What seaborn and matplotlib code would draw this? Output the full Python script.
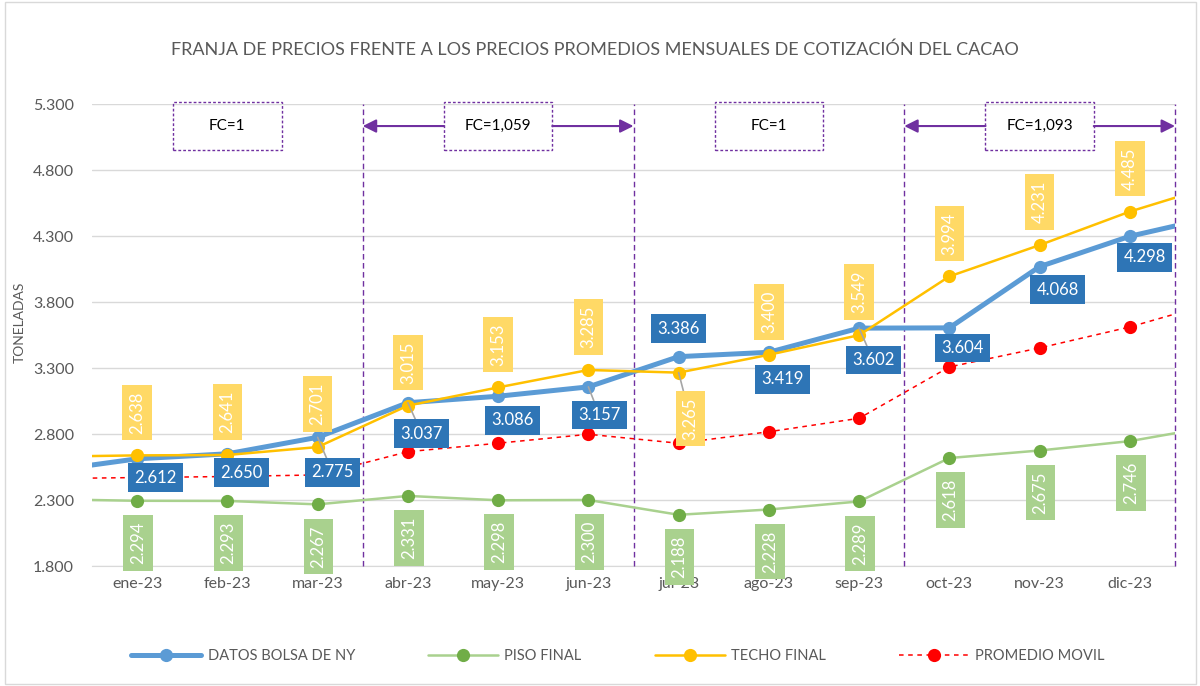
import numpy as np
import pandas as pd
import matplotlib
matplotlib.use('Agg')
import matplotlib.pyplot as plt
import seaborn as sns
from matplotlib.patches import Rectangle

meses = ['ene-23', 'feb-23', 'mar-23', 'abr-23', 'may-23', 'jun-23',
         'jul-23', 'ago-23', 'sep-23', 'oct-23', 'nov-23', 'dic-23']
bolsa_ny = [2612, 2650, 2775, 3037, 3086, 3157, 3386, 3419, 3602, 3604, 4068, 4298]
piso_final = [2294, 2293, 2267, 2331, 2298, 2300, 2188, 2228, 2289, 2618, 2675, 2746]
techo_final = [2638, 2641, 2701, 3015, 3153, 3285, 3265, 3400, 3549, 3994, 4231, 4485]
promedio_movil = [2470, 2478, 2490, 2666, 2730, 2798, 2730, 2817, 2919, 3308, 3452, 3611]

# dic-22 y ene-24 (fuera del eje), solo para que las lineas lleguen a los bordes
bolsa_bordes = [2518, 4454]
piso_bordes = [2306, 2866]
techo_bordes = [2628, 4695]
promedio_bordes = [2462, 3807]

fc_textos = ['FC=1', 'FC=1,059', 'FC=1', 'FC=1,093']
y_ticks = [1800, 2300, 2800, 3300, 3800, 4300, 4800, 5300]
y_labels = ['1.800', '2.300', '2.800', '3.300', '3.800', '4.300', '4.800', '5.300']

sns.set_style('white')
plt.rcParams['font.family'] = ['Lato', 'DejaVu Sans']
gris = '#595959'
morado = '#7030A0'


def serie(vals, bordes):
    return pd.DataFrame({'pos': np.arange(-1, len(vals) + 1),
                         'valor': [bordes[0]] + list(vals) + [bordes[1]]})


def fmt(v):
    return f'{v:,}'.replace(',', '.')


fig = plt.figure(figsize=(12, 6.86), dpi=100)
ax = fig.add_axes([92 / 1200, 120 / 686, 1083 / 1200, 462 / 686])

# lineas
sns.lineplot(data=serie(bolsa_ny, bolsa_bordes), x='pos', y='valor', ax=ax,
             color='#5B9BD5', lw=3.6, marker='o', markersize=9.5, markeredgewidth=0,
             label='DATOS BOLSA DE NY', zorder=4)
sns.lineplot(data=serie(piso_final, piso_bordes), x='pos', y='valor', ax=ax,
             color='#A9D18E', lw=1.8, marker='o', markersize=9.5, markeredgewidth=0,
             markerfacecolor='#70AD47', label='PISO FINAL', zorder=5)
sns.lineplot(data=serie(techo_final, techo_bordes), x='pos', y='valor', ax=ax,
             color='#FFC000', lw=1.8, marker='o', markersize=9.5, markeredgewidth=0,
             label='TECHO FINAL', zorder=6)
sns.lineplot(data=serie(promedio_movil, promedio_bordes), x='pos', y='valor', ax=ax,
             color='#FF0000', lw=1.1, linestyle=(0, (3, 3)), marker='o', markersize=9.5,
             markeredgewidth=0, label='PROMEDIO MOVIL', zorder=7)

handles, labels = ax.get_legend_handles_labels()
ax.get_legend().remove()

ax.set_xlim(-0.5, 11.5)
ax.set_ylim(1800, 5300)
ax.set_xticks(range(len(meses)))
ax.set_xticklabels(meses)
ax.set_xticks(np.arange(-0.5, 12, 1), minor=True)
ax.set_yticks(y_ticks)
ax.set_yticklabels(y_labels)
ax.set_xlabel('')
ax.set_ylabel('')
ax.tick_params(axis='x', which='major', length=0, pad=8, labelsize=11.5, labelcolor=gris)
ax.tick_params(axis='x', which='minor', length=4, width=1, color='#D9D9D9', direction='out')
ax.tick_params(axis='y', length=0, pad=13, labelsize=11.5, labelcolor=gris)
ax.yaxis.grid(True, color='#D9D9D9', lw=1)
ax.set_axisbelow(True)
for s in ['left', 'right', 'top']:
    ax.spines[s].set_visible(False)
ax.spines['bottom'].set_color('#D9D9D9')

# separadores de periodos
for xv in [2.5, 5.5, 8.5, 11.5]:
    ax.axvline(xv, color=morado, lw=1.0, ls=(0, (4, 2.5)), zorder=3, clip_on=False)

# cajas FC
for k, txt in enumerate(fc_textos):
    c = 1 + 3 * k
    ax.add_patch(Rectangle((c - 0.6, 4950), 1.2, 365, fill=False, ec=morado, lw=1.0,
                           ls=(0, (2, 1.5)), clip_on=False, zorder=8))
    ax.text(c, 5133, txt, ha='center', va='center', fontsize=11, color='black', zorder=9)
    if txt != 'FC=1':
        for a, b in [(c - 0.6, c - 1.5), (c + 0.6, c + 1.5)]:
            ax.annotate('', xy=(b, 5133), xytext=(a, 5133),
                        arrowprops=dict(arrowstyle='-|>', color=morado, lw=1.5,
                                        mutation_scale=20, shrinkA=0, shrinkB=0),
                        zorder=9)

# etiquetas de datos
off_bolsa = [(18, -19), (14, -19), (15, -35), (14, -31), (14, -24), (11, -28),
             (0, 28), (14, -27), (14, -32), (13, -20), (18, -23), (15, -21)]
guia_bolsa = [2, 3, 5, 8]
guia = dict(arrowstyle='-', color='#A6A6A6', lw=1.2, shrinkA=0, shrinkB=0)

for i, v in enumerate(bolsa_ny):
    ax.annotate(fmt(v), xy=(i, v), xytext=off_bolsa[i], textcoords='offset pixels',
                ha='center', va='center', fontsize=12, color='white', zorder=12,
                bbox=dict(boxstyle='square,pad=0.38', fc='#2E75B6', ec='none'),
                arrowprops=guia if i in guia_bolsa else None)

for i, v in enumerate(techo_final):
    off = (12, -46) if i == 6 else (0, 43)
    ax.annotate(fmt(v), xy=(i, v), xytext=off, textcoords='offset pixels',
                ha='center', va='center', fontsize=12, color='white', rotation=90,
                zorder=11, bbox=dict(boxstyle='square,pad=0.4', fc='#FFD966', ec='none'),
                arrowprops=guia if i == 6 else None)

for i, v in enumerate(piso_final):
    ax.annotate(fmt(v), xy=(i, v), xytext=(1, -42), textcoords='offset pixels',
                ha='center', va='center', fontsize=12, color='white', rotation=90,
                zorder=11, bbox=dict(boxstyle='square,pad=0.4', fc='#A9D18E', ec='none'))

fig.text(595 / 1200, 1 - 50 / 686,
         'FRANJA DE PRECIOS FRENTE A LOS PRECIOS PROMEDIOS MENSUALES DE COTIZACIÓN DEL CACAO',
         ha='center', va='center', fontsize=13, color=gris)
fig.text(20 / 1200, 1 - 322 / 686, 'TONELADAS', rotation=90, ha='center', va='center',
         fontsize=10, color=gris)

fig.legend(handles, labels, loc='center', bbox_to_anchor=(618 / 1200, 1 - 656 / 686),
           ncol=4, frameon=False, fontsize=10.5, labelcolor=gris, handlelength=4.8,
           handletextpad=0.45, columnspacing=5.0, numpoints=1)

fig.add_artist(Rectangle((5 / 1200, 2 / 686), 1191 / 1200, 682 / 686, transform=fig.transFigure,
                         fill=False, ec='#D9D9D9', lw=1))

fig.savefig('out.png', dpi=100)
